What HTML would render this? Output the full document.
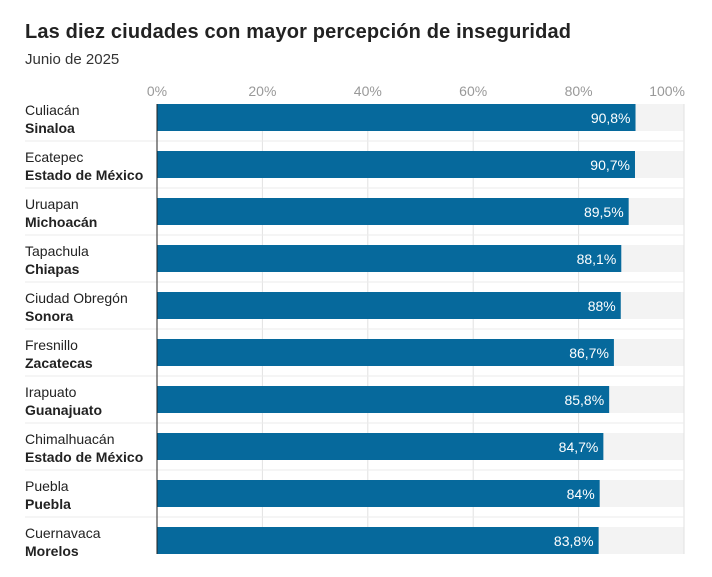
<!DOCTYPE html>
<html><head><meta charset="utf-8"><style>
body{margin:0;background:#fff;font-family:"Liberation Sans",sans-serif;}
</style></head><body>
<svg width="712" height="572" xmlns="http://www.w3.org/2000/svg" font-family="Liberation Sans, sans-serif">
<text x="25" y="38" font-size="20" font-weight="bold" fill="#222" textLength="546">Las diez ciudades con mayor percepción de inseguridad</text>
<text x="25" y="64" font-size="15" fill="#333">Junio de 2025</text>
<g id="plot"></g>
</svg>
<script>
const cities=["Culiacán","Ecatepec","Uruapan","Tapachula","Ciudad Obregón","Fresnillo","Irapuato","Chimalhuacán","Puebla","Cuernavaca"];
const states=["Sinaloa","Estado de México","Michoacán","Chiapas","Sonora","Zacatecas","Guanajuato","Estado de México","Puebla","Morelos"];
const values=[90.8,90.7,89.5,88.1,88,86.7,85.8,84.7,84,83.8];
const labels=["90,8%","90,7%","89,5%","88,1%","88%","86,7%","85,8%","84,7%","84%","83,8%"];
const ticks=[0,20,40,60,80,100];
const NS="http://www.w3.org/2000/svg";
const g=document.getElementById('plot');
const x0=157,x1=684,top0=104,pitch=47,bh=27;
const xs=v=>x0+(x1-x0)*v/100;
const ys=i=>top0+i*pitch;
function mk(t,a,p){const e=document.createElementNS(NS,t);for(const k in a)e.setAttribute(k,a[k]);(p||g).appendChild(e);return e;}
values.forEach((v,i)=>{const r=mk('rect',{x:x0,y:ys(i),width:x1-x0,height:bh,fill:'#f3f3f3'});

});
ticks.forEach((t,k)=>{const l=mk('line',{x1:xs(t),x2:xs(t),y1:top0,y2:ys(values.length-1)+bh,stroke:'#e2e2e2','stroke-width':1});


const last=k===ticks.length-1;
const tx=mk('text',{x:last?xs(t)+1:xs(t),y:96,'font-size':14,fill:'#999','text-anchor':last?'end':'middle'});tx.textContent=t+'%';

});
values.forEach((v,i)=>{
 if(i<values.length-1){const s=mk('line',{x1:25,x2:x1,y1:ys(i)+37,y2:ys(i)+37,stroke:'#ebebeb','stroke-width':1});
 
 }
 const b=mk('rect',{x:x0,y:ys(i),width:xs(v)-x0,height:bh,fill:'#06699c'});
 
 
 const vl=mk('text',{x:xs(v)-5,y:ys(i)+19,'font-size':14,fill:'#fff','text-anchor':'end'});vl.textContent=labels[i];
 
 
 const c=mk('text',{x:25,y:ys(i)+11,'font-size':14,fill:'#222'});c.textContent=cities[i];
 
 
 const s2=mk('text',{x:25,y:ys(i)+29,'font-size':14,'font-weight':'bold',fill:'#222'});s2.textContent=states[i];
 
 
});
const ax=mk('line',{x1:x0,x2:x0,y1:top0,y2:ys(values.length-1)+bh,stroke:'#222','stroke-width':1});


</script>
</body></html>
